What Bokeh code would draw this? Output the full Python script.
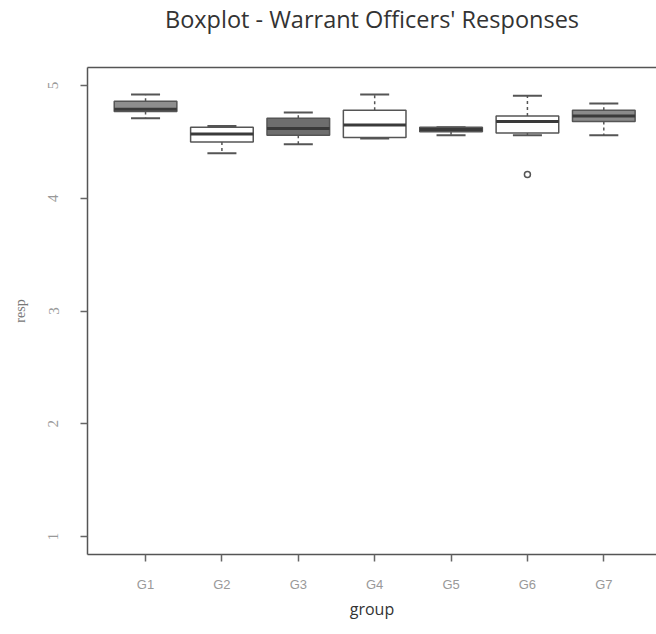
from bokeh.plotting import figure
from bokeh.models import Range1d, FixedTicker, LinearAxis, Title
from bokeh.embed import file_html
from bokeh.resources import INLINE

# ---- data ----
groups = ["G1", "G2", "G3", "G4", "G5", "G6", "G7"]
lower_whisker = [4.71, 4.40, 4.48, 4.53, 4.56, 4.56, 4.56]
q1 = [4.77, 4.50, 4.56, 4.54, 4.59, 4.58, 4.68]
median = [4.79, 4.57, 4.62, 4.65, 4.61, 4.68, 4.73]
q3 = [4.86, 4.63, 4.71, 4.78, 4.63, 4.73, 4.78]
upper_whisker = [4.92, 4.64, 4.76, 4.92, 4.63, 4.91, 4.84]
box_fill = ["#8e8e8e", "#ffffff", "#6e6e6e", "#ffffff", "#686868", "#ffffff", "#8a8a8a"]
outlier_group = ["G6"]
outlier_value = [4.21]
y_ticks = [1, 2, 3, 4, 5]
title_text = "Boxplot - Warrant Officers' Responses"

xs = [i + 1 for i in range(len(groups))]
box_w = 0.82
cap_w = 0.38
x_start, x_end = 0.24, 7.69
y_start, y_end = 0.84, 5.16

p = figure(width=656, height=634, output_backend="svg", toolbar_location=None,
           x_range=Range1d(x_start, x_end), y_range=Range1d(y_start, y_end),
           min_border_left=87, min_border_right=0, min_border_top=66, min_border_bottom=80)
p.outline_line_color = None
p.xgrid.visible = False
p.ygrid.visible = False
p.background_fill_color = "white"
p.border_fill_color = "white"

# axes
for ax in (p.xaxis[0], p.yaxis[0]):
    ax.axis_line_color = "#555555"
    ax.axis_line_width = 1.5
    ax.major_tick_line_color = "#666666"
    ax.major_tick_line_width = 1.5
    ax.major_tick_in = 0
    ax.major_tick_out = 7
    ax.minor_tick_line_color = None
    ax.major_label_text_font = "Liberation Sans"
    ax.major_label_text_color = "#999999"

p.xaxis.ticker = FixedTicker(ticks=xs)
p.xaxis.major_label_overrides = {x: g for x, g in zip(xs, groups)}
p.xaxis.major_label_text_font_size = "13px"
p.xaxis.major_label_standoff = 15
p.xaxis.axis_label = "group"
p.xaxis.axis_label_text_font = "Open Sans"
p.xaxis.axis_label_text_font_size = "16px"
p.xaxis.axis_label_text_font_style = "normal"
p.xaxis.axis_label_text_color = "#333333"
p.xaxis.axis_label_standoff = 3

p.yaxis.ticker = FixedTicker(ticks=y_ticks)
p.yaxis.major_label_text_font = "Liberation Serif"
p.yaxis.major_label_text_font_size = "15px"
p.yaxis.major_label_orientation = "vertical"
p.yaxis.major_label_standoff = 22
p.yaxis.axis_label = "resp"
p.yaxis.axis_label_text_font = "Liberation Serif"
p.yaxis.axis_label_text_font_size = "14px"
p.yaxis.axis_label_text_font_style = "normal"
p.yaxis.axis_label_text_color = "#777777"
p.yaxis.axis_label_standoff = 18

# top frame line (no right-hand line: the reference is cut off there)
top_axis = LinearAxis(ticker=FixedTicker(ticks=[]), axis_line_color="#555555",
                      axis_line_width=1.5, major_tick_out=0, major_tick_in=0,
                      minor_tick_out=0, minor_tick_in=0,
                      major_label_text_font_size="0px")
p.add_layout(top_axis, "above")
# blank spacer between frame and title
p.add_layout(Title(text=" ", text_font_size="10px", standoff=20), "above")

p.title.text = title_text
p.title.text_font = "Open Sans"
p.title.text_font_size = "23.5px"
p.title.text_font_style = "normal"
p.title.text_color = "#333333"
p.title.align = "center"
p.title.offset = 3
p.title.standoff = 0

# whiskers (dashed)
p.segment(x0=xs, x1=xs, y0=q3, y1=upper_whisker, line_color="#555555",
          line_width=1.5, line_dash="3 3")
p.segment(x0=xs, x1=xs, y0=q1, y1=lower_whisker, line_color="#555555",
          line_width=1.5, line_dash="3 3")
# caps
p.segment(x0=[x - cap_w / 2 for x in xs], x1=[x + cap_w / 2 for x in xs],
          y0=upper_whisker, y1=upper_whisker, line_color="#555555", line_width=2)
p.segment(x0=[x - cap_w / 2 for x in xs], x1=[x + cap_w / 2 for x in xs],
          y0=lower_whisker, y1=lower_whisker, line_color="#555555", line_width=2)
# boxes
p.vbar(x=xs, width=box_w, bottom=q1, top=q3, fill_color=box_fill,
       line_color="#555555", line_width=1.5)
# medians
p.segment(x0=[x - box_w / 2 for x in xs], x1=[x + box_w / 2 for x in xs],
          y0=median, y1=median, line_color="#3a3a3a", line_width=3)
# outliers
out_x = [groups.index(g) + 1 for g in outlier_group]
p.scatter(x=out_x, y=outlier_value, marker="circle", size=6,
          fill_color=None, line_color="#555555", line_width=1.5)

open("out.html", "w").write(file_html(p, INLINE))
